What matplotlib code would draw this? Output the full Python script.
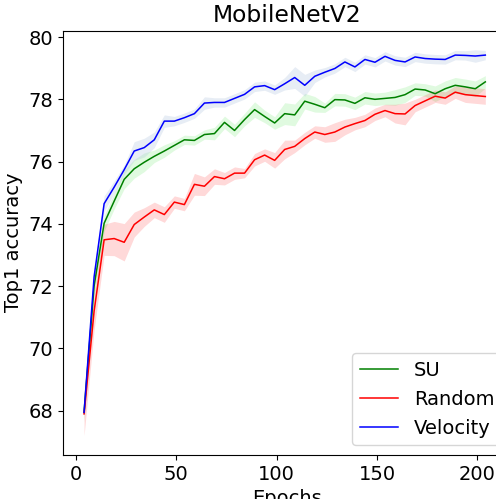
import numpy as np
import matplotlib.pyplot as plt

plt.rcParams['font.size'] = 14

epochs = np.arange(4, 205, 5)

su_mean = [67.95, 72.0, 74.02, 74.73, 75.43, 75.77, 75.98, 76.17, 76.34, 76.52,
           76.70, 76.68, 76.87, 76.90, 77.26, 77.00, 77.35, 77.67, 77.45, 77.24,
           77.54, 77.50, 77.94, 77.84, 77.73, 77.99, 77.98, 77.87, 78.05, 78.00,
           78.03, 78.06, 78.15, 78.33, 78.30, 78.18, 78.34, 78.45, 78.40, 78.34,
           78.56]
su_std = [0.3, 0.3, 0.25, 0.25, 0.3, 0.3, 0.3, 0.2, 0.2, 0.15,
          0.15, 0.15, 0.15, 0.2, 0.2, 0.2, 0.2, 0.25, 0.2, 0.2,
          0.35, 0.35, 0.25, 0.25, 0.15, 0.2, 0.2, 0.2, 0.2, 0.2,
          0.2, 0.25, 0.25, 0.2, 0.2, 0.25, 0.25, 0.25, 0.25, 0.25,
          0.2]

random_mean = [67.9, 71.2, 73.49, 73.53, 73.41, 73.98, 74.22, 74.45, 74.30, 74.70,
               74.62, 75.27, 75.21, 75.52, 75.45, 75.63, 75.63, 76.06, 76.21, 76.04,
               76.39, 76.49, 76.74, 76.95, 76.87, 76.95, 77.11, 77.22, 77.32, 77.52,
               77.64, 77.54, 77.53, 77.80, 77.95, 78.10, 78.04, 78.23, 78.15, 78.12,
               78.09]
random_std = [0.7, 0.6, 0.5, 0.55, 0.6, 0.4, 0.3, 0.25, 0.25, 0.2,
              0.2, 0.35, 0.3, 0.25, 0.2, 0.2, 0.15, 0.2, 0.2, 0.25,
              0.3, 0.2, 0.2, 0.2, 0.25, 0.3, 0.25, 0.2, 0.2, 0.2,
              0.2, 0.3, 0.35, 0.2, 0.2, 0.2, 0.2, 0.2, 0.25, 0.25,
              0.25]

velocity_mean = [67.95, 72.3, 74.65, 75.18, 75.74, 76.34, 76.45, 76.70, 77.30, 77.30,
                 77.41, 77.54, 77.88, 77.90, 77.90, 78.03, 78.16, 78.40, 78.44, 78.31,
                 78.50, 78.70, 78.45, 78.74, 78.87, 78.99, 79.20, 79.04, 79.28, 79.19,
                 79.38, 79.25, 79.20, 79.36, 79.31, 79.29, 79.28, 79.42, 79.41, 79.39,
                 79.42]
velocity_std = [0.2, 0.2, 0.25, 0.2, 0.15, 0.3, 0.3, 0.25, 0.2, 0.15,
                0.15, 0.15, 0.2, 0.15, 0.15, 0.15, 0.15, 0.15, 0.15, 0.15,
                0.2, 0.35, 0.35, 0.2, 0.15, 0.15, 0.15, 0.15, 0.15, 0.15,
                0.15, 0.15, 0.15, 0.15, 0.15, 0.15, 0.15, 0.15, 0.15, 0.2,
                0.15]

series = [
    ("SU", su_mean, su_std, "green", "lightgreen", 0.28),
    ("Random", random_mean, random_std, "red", "red", 0.15),
    ("Velocity", velocity_mean, velocity_std, "blue", "lightsteelblue", 0.3),
]

fig = plt.figure(figsize=(4.96, 4.99), dpi=100)
# axes runs past the right edge of the canvas, like the reference
ax = fig.add_axes([63 / 496, 44 / 499, 449 / 496, 424.5 / 499])

for name, mean, std, color, fill, alpha in series:
    m = np.array(mean)
    s = np.array(std)
    ax.plot(epochs, m, color=color, lw=1.1, label=name)
    ax.fill_between(epochs, m - s, m + s, color=fill, alpha=alpha, lw=0)

ax.set_xlim(-6.5, 217.3)
ax.set_title("MobileNetV2")
ax.set_xlabel("Epochs")
ax.set_ylabel("Top1 accuracy")
ax.legend(loc="lower right")

fig.savefig("out.png", dpi=100)
